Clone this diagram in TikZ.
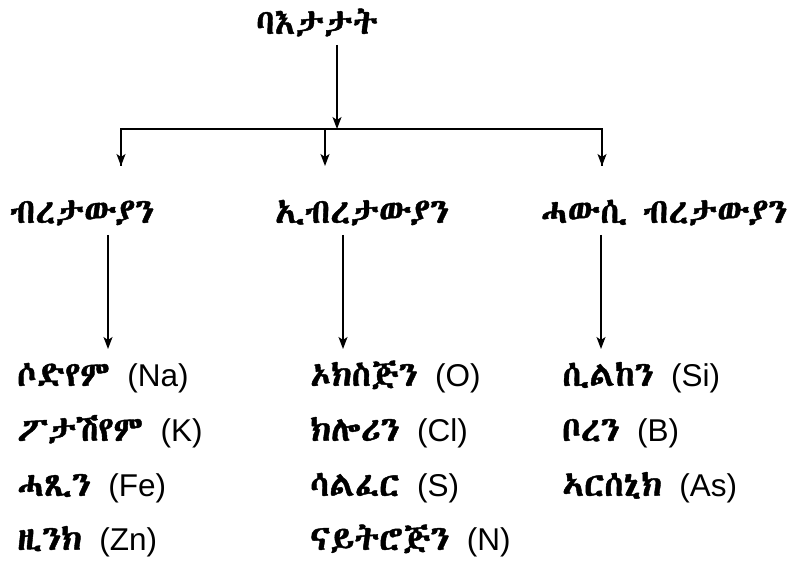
\documentclass[tikz,border=0pt]{standalone}
\usepackage{fontspec}
\usetikzlibrary{arrows.meta}
\setmainfont{Liberation Sans}
\IfFontExistsTF{Abyssinica SIL}{\newfontfamily\eth[Script=Ethiopic,Scale=1.1,FakeBold=1.2]{Abyssinica SIL}}{%
 \IfFontExistsTF{FreeSerif.otf}{\newfontfamily\eth[Script=Ethiopic,Scale=1.1,FakeBold=1.2]{FreeSerif.otf}}{%
  \IfFontExistsTF{Noto Sans Ethiopic}{\newfontfamily\eth[Script=Ethiopic,Scale=1.1,FakeBold=1.2]{Noto Sans Ethiopic}}{%
   \newfontfamily\eth{DejaVu Sans}}}}
\tikzset{
  lbl/.style={inner sep=0pt, font=\fontsize{31.5}{36}\selectfont},
  item/.style={lbl, anchor=base west},
  arr/.style={-{Stealth[length=12pt,width=9pt,inset=3pt]}, line width=1.4pt},
  ln/.style={line width=1.4pt}
}
\begin{document}
\begin{tikzpicture}[x=1pt,y=-1pt]
\useasboundingbox[fill=white] (0,0) rectangle (797,561);
% top
\node[lbl, anchor=base] (top) at (317,34) {\eth ባእታታት};
\coordinate (hubtop) at (337,45);
\coordinate (hub) at (337,129);
\coordinate (L) at (121,129);
\coordinate (M) at (325,129);
\coordinate (R) at (602,129);
\coordinate (Lt) at (121,166);
\coordinate (Mt) at (325,166);
\coordinate (Rt) at (602,166);
\draw[arr] (hubtop) -- (hub);
\draw[ln] (Lt) -- (L) -- (R) -- (Rt);
\draw[arr] (L) -- (Lt);
\draw[arr] (M) -- (Mt);
\draw[arr] (R) -- (Rt);
% categories
\node[lbl, anchor=base] (c1) at (82,223) {\eth ብረታውያን};
\node[lbl, anchor=base] (c2) at (362,223) {\eth ኢብረታውያን};
\node[lbl, anchor=base] (c3) at (664,223) {\eth ሓውሲ~ብረታውያን};
\coordinate (a1s) at (108,235); \coordinate (a1e) at (108,349);
\coordinate (a2s) at (343,235); \coordinate (a2e) at (343,349);
\coordinate (a3s) at (601,235); \coordinate (a3e) at (601,349);
\draw[arr] (a1s) -- (a1e);
\draw[arr] (a2s) -- (a2e);
\draw[arr] (a3s) -- (a3e);
% items
\node[item] (m1) at (17,386) {{\eth ሶድየም}~~(Na)};
\node[item] (m2) at (17,441) {{\eth ፖታሽየም}~~(K)};
\node[item] (m3) at (17,496) {{\eth ሓጺን}~~(Fe)};
\node[item] (m4) at (17,550) {{\eth ዚንክ}~~(Zn)};
\node[item] (n1) at (310,386) {{\eth ኦክስጅን}~~(O)};
\node[item] (n2) at (310,441) {{\eth ክሎሪን}~~(Cl)};
\node[item] (n3) at (310,496) {{\eth ሳልፈር}~~(S)};
\node[item] (n4) at (310,550) {{\eth ናይትሮጅን}~~(N)};
\node[item] (s1) at (562,386) {{\eth ሲልከን}~~(Si)};
\node[item] (s2) at (562,441) {{\eth ቦረን}~~(B)};
\node[item] (s3) at (562,496) {{\eth ኣርሰኒክ}~~(As)};
\end{tikzpicture}
\end{document}
